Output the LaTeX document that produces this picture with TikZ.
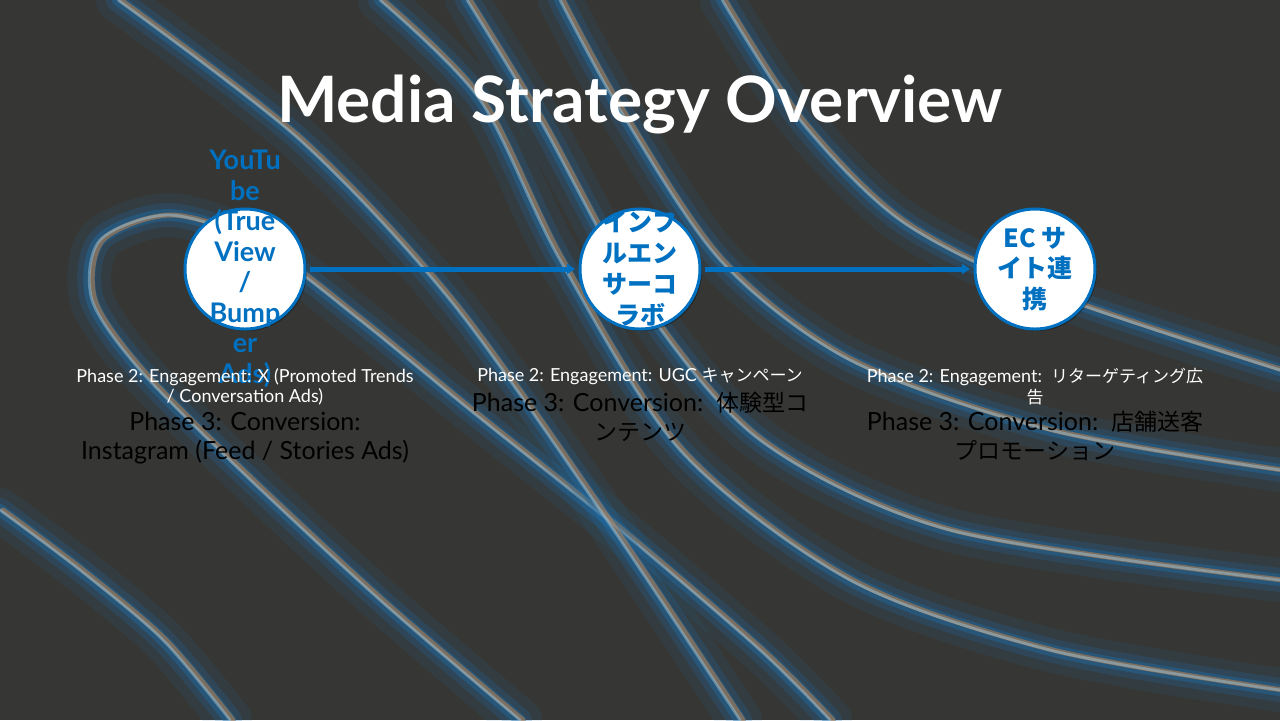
\documentclass[tikz,border=0pt]{standalone}
\usepackage{fontspec}
\setmainfont{Lato}
\newfontfamily\jp{Noto Sans CJK JP}
\usetikzlibrary{arrows.meta,positioning,shadows}
\tikzset{>=Stealth}
\definecolor{slide}{RGB}{54,55,52}
\definecolor{brand}{RGB}{0,112,192}
\definecolor{glowblue}{RGB}{30,110,170}
\definecolor{glowcore}{RGB}{160,205,230}
\definecolor{gloworange}{RGB}{225,140,70}
\newcommand\swirl[1]{%
  \draw[glowblue, line width=22pt, opacity=0.1, line cap=round] #1;
  \draw[glowblue, line width=12pt, opacity=0.22, line cap=round] #1;
  \draw[glowblue, line width=6pt, opacity=0.4, line cap=round] #1;
  \draw[gloworange, line width=2.5pt, opacity=0.45, line cap=round, xshift=1.5pt] #1;
  \draw[glowcore, line width=1.4pt, opacity=0.45, line cap=round] #1;
}
\newcommand\jtwo[1]{{\jp\fontsize{8.5}{10.25}\selectfont #1}}
\newcommand\jthree[1]{{\jp\fontsize{11.5}{14.5}\selectfont #1}}
\tikzset{
  bubble/.style={circle, draw=brand, line width=1.5pt, fill=white, minimum size=60pt, inner sep=0pt, outer sep=2.5pt,
    drop shadow={shadow xshift=1pt, shadow yshift=-1pt, opacity=0.3, fill=black}},
  bubbletext/.style={text=brand, font=\bfseries\fontsize{13.5}{15.25}\selectfont, align=center, inner sep=0pt},
  phasetwo/.style={text=white, font=\fontsize{9}{10.25}\selectfont, align=center, inner sep=0pt, anchor=north},
  phasethree/.style={text=black, font=\fontsize{12.5}{14.5}\selectfont, align=center, inner sep=0pt},
  flow/.style={->, > = {Triangle[length=4pt,width=5pt]}, brand, line width=2.5pt}
}
\begin{document}
\begin{tikzpicture}[x=0.5pt, y=-0.5pt]
	\useasboundingbox (0,0) rectangle (1280,720);
	\fill [slide] (0,0) rectangle (1280,720);
	% background swirls
	\begin{scope}
	\clip (0,0) rectangle (1280,720);
	\swirl{plot[smooth] coordinates {(520,720) (380,600) (240,470) (140,370) (92,300) (100,240) (170,215) (260,245) (360,320) (470,410) (620,530) (760,650) (830,720)}}
	\swirl{plot[smooth] coordinates {(118,0) (300,140) (450,300) (600,510) (740,720)}}
	\swirl{plot[smooth] coordinates {(380,0) (480,100) (560,260) (680,450) (850,580) (1050,650) (1280,690)}}
	\swirl{plot[smooth] coordinates {(467,0) (540,120) (640,300) (760,440) (950,530) (1280,580)}}
	\swirl{plot[smooth] coordinates {(560,0) (620,110) (720,260) (850,360) (1050,430) (1280,470)}}
	\swirl{plot[smooth] coordinates {(722,0) (800,120) (900,220) (1040,290) (1280,370)}}
	\swirl{plot[smooth] coordinates {(0,510) (80,570) (163,640) (230,720)}}
	\end{scope}
	% title
	\node [text=white, font=\bfseries\fontsize{32}{38}\selectfont] (title) at (640,104) {Media Strategy Overview};
	% circles
	\node [bubble] (yt) at (245,269) {};
	\node [bubble] (infl) at (640,269) {};
	\node [bubble] (ec) at (1035,269) {};
	\node [bubbletext] at (yt) {YouTu\\be\\(True\\View\\/\\Bump\\er\\Ads)};
	\node [bubbletext, font=\jp\bfseries\fontsize{12.5}{15.5}\selectfont] at (infl) {インフ\\ルエン\\サーコ\\ラボ};
	\node [bubbletext, font=\jp\bfseries\fontsize{12.5}{15.25}\selectfont] at (ec) {EC サ\\イト連\\携};
	\draw [flow] (yt) -- (infl);
	\draw [flow] (infl) -- (ec);
	% phase texts
	\node [phasetwo] (yt-p2) at (245,368) {Phase 2: Engagement: X (Promoted Trends\\/ Conversation Ads)};
	\node [phasethree, below=3pt of yt-p2] (yt-p3) {Phase 3: Conversion:\\Instagram (Feed / Stories Ads)};
	\node [phasetwo] (infl-p2) at (640,368) {Phase 2: Engagement: UGC \jtwo{キャンペーン}};
	\node [phasethree, below=3pt of infl-p2] (infl-p3) {Phase 3: Conversion:\ \ \jthree{体験型コ}\\\jthree{ンテンツ}};
	\node [phasetwo] (ec-p2) at (1035,368) {Phase 2: Engagement:\ \ \jtwo{リターゲティング広}\\\jtwo{告}};
	\node [phasethree, below=3pt of ec-p2] (ec-p3) {Phase 3: Conversion:\ \ \jthree{店舗送客}\\\jthree{プロモーション}};
\end{tikzpicture}
\end{document}
